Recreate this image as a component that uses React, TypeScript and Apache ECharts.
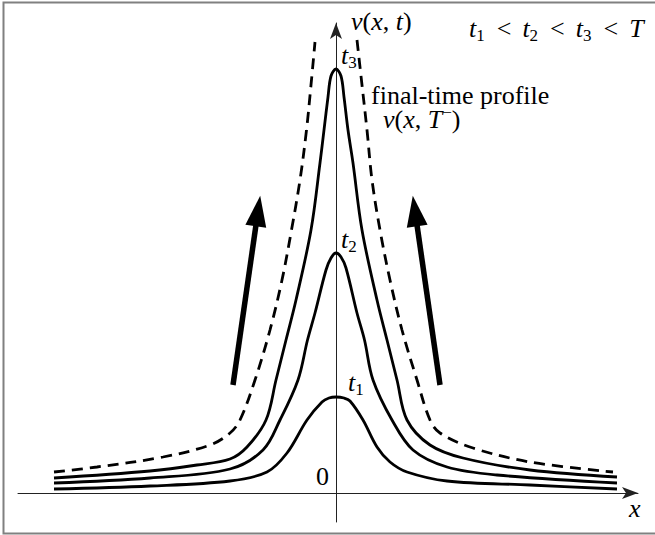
import { useEffect, useRef } from "react";
import * as echarts from "echarts";

// Profiles v(x, t) at increasing times t1 < t2 < t3, as [x, v] pairs.
const profileT1: [number, number][] = [
  [-2.82, 0.04], [-1.86, 0.07], [-1.06, 0.12], [-0.69, 0.21], [-0.49, 0.4],
  [-0.29, 0.73], [-0.14, 0.91], [-0.07, 0.95], [0, 0.96], [0.08, 0.95],
  [0.14, 0.92], [0.27, 0.73], [0.41, 0.46], [0.54, 0.31], [0.71, 0.21],
  [1.11, 0.12], [1.94, 0.08], [2.81, 0.04],
];

const profileT2: [number, number][] = [
  [-2.82, 0.1], [-1.86, 0.15], [-1.06, 0.24], [-0.73, 0.43], [-0.56, 0.73],
  [-0.38, 1.13], [-0.285, 1.53], [-0.21, 1.8], [-0.1, 2.23], [-0.05, 2.35],
  [0, 2.4], [0.05, 2.36], [0.1, 2.25], [0.21, 1.8], [0.285, 1.53],
  [0.37, 1.13], [0.56, 0.73], [0.77, 0.43], [1.11, 0.26], [1.61, 0.18],
  [2.81, 0.1],
];

const profileT3: [number, number][] = [
  [-2.82, 0.15], [-1.86, 0.22], [-1.39, 0.28], [-1.06, 0.34], [-0.89, 0.46],
  [-0.7, 0.73], [-0.6, 1.13], [-0.5, 1.53], [-0.4, 1.93], [-0.25, 2.63],
  [-0.16, 3.3], [-0.12, 3.63], [-0.08, 3.96], [-0.05, 4.17], [0, 4.24],
  [0.05, 4.17], [0.08, 3.96], [0.12, 3.63], [0.17, 3.3], [0.26, 2.63],
  [0.41, 1.93], [0.51, 1.53], [0.61, 1.13], [0.71, 0.73], [0.94, 0.48],
  [1.27, 0.35], [1.94, 0.23], [2.81, 0.16],
];

// Final-time profile v(x, T^-): two branches that blow up near x = 0.
const finalLeft: [number, number][] = [
  [-2.82, 0.21], [-2.39, 0.26], [-1.73, 0.36], [-1.26, 0.48], [-1.06, 0.6],
  [-0.96, 0.73], [-0.81, 1.13], [-0.66, 1.63], [-0.54, 2.13], [-0.445, 2.63],
  [-0.36, 3.13], [-0.295, 3.63], [-0.25, 4.08], [-0.21, 4.51],
];

const finalRight: [number, number][] = [
  [0.21, 4.53], [0.26, 4.08], [0.31, 3.63], [0.36, 3.13], [0.44, 2.63],
  [0.54, 2.13], [0.66, 1.63], [0.81, 1.13], [0.94, 0.73], [1.04, 0.6],
  [1.37, 0.45], [1.94, 0.31], [2.77, 0.21],
];

// Growth arrows (tail, head) on either side of the peak.
const arrowLeft: [number, number][] = [[-1.03, 1.08], [-0.78, 2.82]];
const arrowRight: [number, number][] = [[1.04, 1.08], [0.79, 2.82]];

const SERIF = "Liberation Serif";
const BIG = 26;
const SMALL = 17;

// Rich-text token styles: italic math, roman, relation, subscript, superscript.
function makeRich() {
  return {
    i: { fontFamily: SERIF, fontStyle: "italic", fontSize: BIG, fill: "#000" },
    r: { fontFamily: SERIF, fontSize: BIG, fill: "#000" },
    rel: { fontFamily: SERIF, fontSize: BIG, fill: "#000", padding: [0, 11, 0, 12] },
    s: { fontFamily: SERIF, fontSize: SMALL, fill: "#000", padding: [14, 0, 0, 0] },
    p: { fontFamily: SERIF, fontSize: SMALL, fill: "#000", padding: [0, 0, 14, 0] },
  };
}

// Math label; y is the top of the line box.
function mathLabel(text: string, x: number, y: number) {
  return { type: "text", x, y, style: { text, rich: makeRich() } };
}

// Plain single-font label; y is the top of the line box.
function plainLabel(text: string, x: number, y: number, italic = false) {
  return {
    type: "text",
    x,
    y,
    style: {
      text,
      fontFamily: SERIF,
      fontSize: BIG,
      fontStyle: italic ? "italic" : "normal",
      fill: "#000",
    },
  };
}

const curveStyle = { color: "#000", width: 2.8 };

export default function App() {
  const ref = useRef<HTMLDivElement>(null);

  useEffect(() => {
    if (!ref.current) return;
    const chart = echarts.init(ref.current, null, { renderer: "svg" });

    const axisLine = {
      onZero: true,
      symbol: ["none", "arrow"],
      symbolSize: [9, 16],
      lineStyle: { color: "#222", width: 1 },
    };

    chart.setOption({
      animation: false,
      textStyle: { fontFamily: SERIF },
      grid: { left: 18, right: 17, top: 23, bottom: 13, containLabel: false },
      xAxis: {
        type: "value",
        min: -3.18,
        max: 3.02,
        axisLine,
        axisTick: { show: false },
        axisLabel: { show: false },
        splitLine: { show: false },
      },
      yAxis: {
        type: "value",
        min: -0.29,
        max: 4.7,
        axisLine,
        axisTick: { show: false },
        axisLabel: { show: false },
        splitLine: { show: false },
      },
      series: [
        {
          type: "line",
          data: profileT1,
          smooth: 0.35,
          showSymbol: false,
          silent: true,
          lineStyle: curveStyle,
          markLine: {
            silent: true,
            symbol: ["none", "triangle"],
            symbolSize: [21, 31],
            label: { show: false },
            lineStyle: { color: "#000", width: 5.5, type: "solid" },
            data: [
              [{ coord: arrowLeft[0] }, { coord: arrowLeft[1] }],
              [{ coord: arrowRight[0] }, { coord: arrowRight[1] }],
            ],
          },
        },
        { type: "line", data: profileT2, smooth: 0.35, showSymbol: false, silent: true, lineStyle: curveStyle },
        { type: "line", data: profileT3, smooth: 0.35, showSymbol: false, silent: true, lineStyle: curveStyle },
        {
          type: "line",
          data: finalLeft,
          smooth: 0.35,
          showSymbol: false,
          silent: true,
          lineStyle: { ...curveStyle, type: [11, 7] },
        },
        {
          type: "line",
          data: finalRight,
          smooth: 0.35,
          showSymbol: false,
          silent: true,
          lineStyle: { ...curveStyle, type: [11, 7] },
        },
      ],
      graphic: [
        mathLabel("{i|v}{r|(}{i|x}{r|, }{i|t}{r|)}", 351, 8),
        mathLabel("{i|t}{s|1}{rel|<}{i|t}{s|2}{rel|<}{i|t}{s|3}{rel|<}{i|T}", 469, 12.5),
        plainLabel("final-time profile", 371, 82),
        mathLabel("{i|v}{r|(}{i|x}{r|, }{i|T}{p|−}{r|)}", 383, 103.5),
        mathLabel("{i|t}{s|3}", 341, 39.5),
        mathLabel("{i|t}{s|2}", 341, 223.5),
        mathLabel("{i|t}{s|1}", 348, 366.5),
        plainLabel("0", 316, 463),
        plainLabel("x", 629, 495, true),
        {
          type: "rect",
          silent: true,
          shape: { x: 3.5, y: 2.5, width: 700, height: 531 },
          style: { fill: "none", stroke: "#808080", lineWidth: 2 },
        },
      ],
    });

    return () => chart.dispose();
  }, []);

  return (
    <div
      ref={ref}
      style={{ position: "absolute", left: 0, top: 0, width: 655, height: 535, background: "#fff" }}
    />
  );
}
